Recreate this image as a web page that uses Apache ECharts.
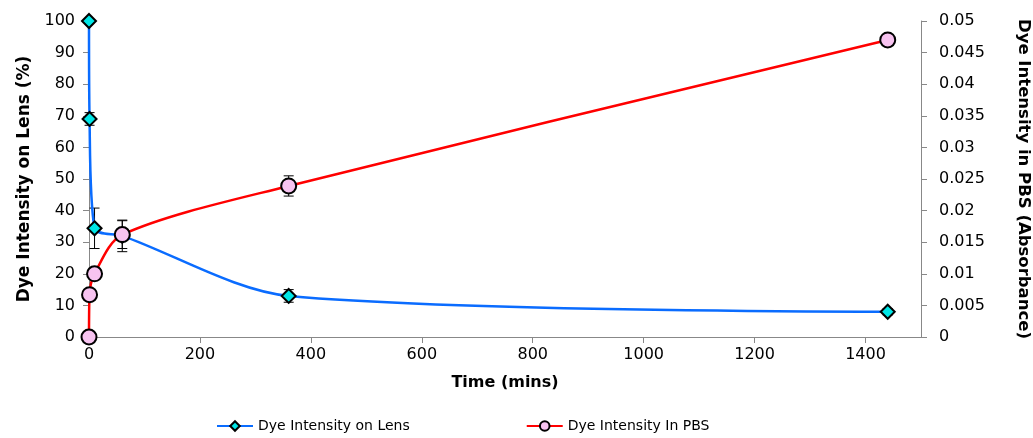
<!DOCTYPE html>
<html><head><meta charset="utf-8">
<script src="https://cdn.jsdelivr.net/npm/echarts@6/dist/echarts.min.js"></script>
<style>html,body{margin:0;padding:0;background:#fff}#c{width:1033px;height:438px}</style>
</head><body><div id="c"></div>
<script>
const times = [0, 1, 10, 60, 360, 1440];
const lensValues = [100, 69, 34.4, 32, 13, 8];
const lensErrors = [0, 2, 6.4, 5, 2, 1];
const pbsValues = [0, 0.0067, 0.01, 0.0162, 0.0239, 0.047];
const pbsErrors = [0, 0, 0, 0.0022, 0.0016, 0.0005];
const xTicks = [0, 200, 400, 600, 800, 1000, 1200, 1400];

const lensData = times.map((t, i) => [t, lensValues[i]]);
const pbsData = times.map((t, i) => [t, pbsValues[i]]);
const lensErr = times.map((t, i) => [t, lensValues[i] - lensErrors[i], lensValues[i] + lensErrors[i]]).filter(d => d[2] > d[1]);
const pbsErr = times.map((t, i) => [t, pbsValues[i] - pbsErrors[i], pbsValues[i] + pbsErrors[i]]).filter(d => d[2] > d[1]);

function errRender(color) {
  return function (params, api) {
    const x = api.value(0);
    const lo = api.coord([x, api.value(1)]);
    const hi = api.coord([x, api.value(2)]);
    const w = 5;
    const st = { stroke: color, lineWidth: 1 };
    return { type: 'group', children: [
      { type: 'line', shape: { x1: lo[0], y1: lo[1], x2: hi[0], y2: hi[1] }, style: st },
      { type: 'line', shape: { x1: lo[0] - w, y1: lo[1], x2: lo[0] + w, y2: lo[1] }, style: st },
      { type: 'line', shape: { x1: hi[0] - w, y1: hi[1], x2: hi[0] + w, y2: hi[1] }, style: st }
    ]};
  };
}

const chart = echarts.init(document.getElementById('c'), null, { renderer: 'canvas' });
const FONT = 'DejaVu Sans';
const axisCommon = {
  axisLine: { show: true, lineStyle: { color: '#888', width: 1 } },
  axisTick: { show: true, inside: false, length: 6, lineStyle: { color: '#888' } },
  splitLine: { show: false },
  axisLabel: { color: '#000', fontSize: 16, fontFamily: FONT, margin: 14 }
};
chart.setOption({
  animation: false,
  backgroundColor: '#fff',
  grid: { left: 89, right: 112, top: 21, bottom: 101, containLabel: false, outerBoundsMode: 'none' },
  legend: {
    bottom: 0, left: 211, itemGap: 116, itemWidth: 36, itemHeight: 12,
    textStyle: { fontSize: 14, fontFamily: FONT, color: '#000' },
    data: ['Dye Intensity on Lens', 'Dye Intensity In PBS']
  },
  xAxis: Object.assign({}, axisCommon, {
    type: 'value', min: 0, max: 1500, interval: 200,
    name: 'Time (mins)', nameLocation: 'middle', nameGap: 38,
    nameTextStyle: { fontSize: 16, fontWeight: 'bold', fontFamily: FONT, color: '#000' },
    axisLabel: Object.assign({}, axisCommon.axisLabel, { showMaxLabel: false, margin: 10, formatter: v => String(v) })
  }),
  yAxis: [
    Object.assign({}, axisCommon, {
      type: 'value', min: 0, max: 100, interval: 10,
      name: 'Dye Intensity on Lens (%)', nameLocation: 'middle', nameGap: 50,
      nameTextStyle: { fontSize: 17, fontWeight: 'bold', fontFamily: FONT, color: '#000' }
    }),
    Object.assign({}, axisCommon, {
      type: 'value', min: 0, max: 0.05, interval: 0.005, position: 'right',
      name: 'Dye Intensity in PBS (Absorbance)', nameLocation: 'middle', nameGap: 94, nameRotate: -90,
      nameTextStyle: { fontSize: 16.5, fontWeight: 'bold', fontFamily: FONT, color: '#000' },
      axisLabel: Object.assign({}, axisCommon.axisLabel, { margin: 18, formatter: v => String(+v.toFixed(3)) })
    })
  ],
  series: [
    {
      name: 'Dye Intensity on Lens', type: 'line', yAxisIndex: 0, data: lensData, smooth: 0.3,
      lineStyle: { color: '#0A6CFF', width: 2.5 },
      symbol: 'diamond', symbolSize: 14,
      itemStyle: { color: '#00E6E6', borderColor: '#000', borderWidth: 2 }, z: 3
    },
    {
      name: 'Dye Intensity In PBS', type: 'line', yAxisIndex: 1, data: pbsData, smooth: 0.3,
      lineStyle: { color: '#FF0000', width: 2.5 },
      symbol: 'circle', symbolSize: 15,
      itemStyle: { color: '#F7C3F0', borderColor: '#000', borderWidth: 2 }, z: 4
    },
    { type: 'custom', yAxisIndex: 0, data: lensErr, renderItem: errRender('#000'), z: 2, silent: true, encode: { x: 0, y: [1, 2] } },
    { type: 'custom', yAxisIndex: 1, data: pbsErr, renderItem: errRender('#000'), z: 2, silent: true, encode: { x: 0, y: [1, 2] } }
  ]
});
</script></body></html>
